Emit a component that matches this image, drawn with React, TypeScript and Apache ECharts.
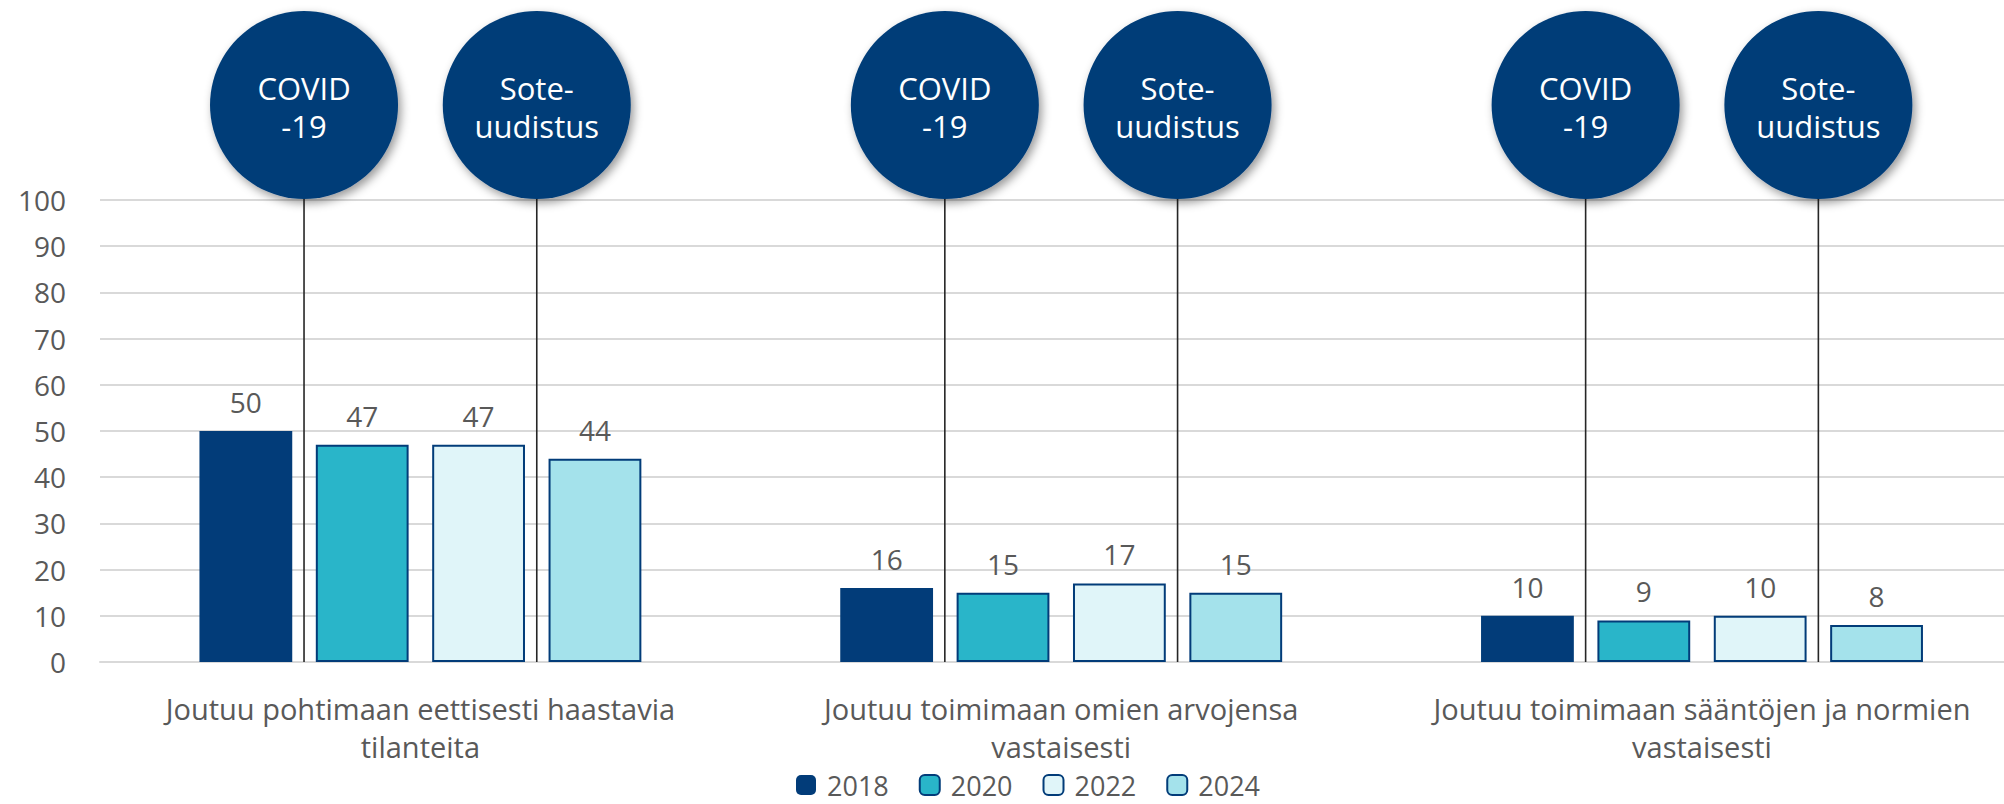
import React, { useEffect, useRef } from "react";
import * as echarts from "echarts";

const categories = [
  "Joutuu pohtimaan eettisesti haastavia\ntilanteita",
  "Joutuu toimimaan omien arvojensa\nvastaisesti",
  "Joutuu toimimaan sääntöjen ja normien\nvastaisesti",
];
const years = ["2018", "2020", "2022", "2024"];
const values2018 = [50, 16, 10];
const values2020 = [47, 15, 9];
const values2022 = [47, 17, 10];
const values2024 = [44, 15, 8];
const seriesValues = [values2018, values2020, values2022, values2024];
const yMin = 0;
const yMax = 100;
const yInterval = 10;
// events drawn between bars: after year index
const eventLabels = ["COVID\n-19", "Sote-\nuudistus"];
const eventAfterYearIndex = [0, 2];

const COLORS = ["#023C79", "#29B5C9", "#E0F5F9", "#A4E2EB"];
const BORDER = "#023C79";
const TEXT = "#595959";
const FONT = "'Open Sans', 'Noto Sans', sans-serif";
const BAR_WIDTH = 92.8;
const BAR_GAP = 0.254;

export default function App() {
  const ref = useRef<HTMLDivElement>(null);
  useEffect(() => {
    if (!ref.current) return;
    const chart = echarts.init(ref.current, null, { renderer: "svg" });
    const step = BAR_WIDTH * (1 + BAR_GAP);
    const option: any = {
      animation: false,
      backgroundColor: "#ffffff",
      grid: { left: 100, top: 200, width: 1922.4, bottom: 142, containLabel: false },
      legend: {
        data: years,
        left: 796,
        top: 770,
        padding: 0,
        itemWidth: 20,
        itemHeight: 20,
        itemGap: 30,
        textStyle: { color: TEXT, fontSize: 27, fontFamily: FONT, padding: [0, 0, 0, 6], lineHeight: 30 },
      },
      xAxis: {
        type: "category",
        data: categories,
        axisTick: { show: false },
        axisLine: { show: true, lineStyle: { color: "#D9D9D9", width: 2 } },
        axisLabel: {
          color: TEXT,
          fontSize: 29,
          fontFamily: FONT,
          lineHeight: 38,
          margin: 27,
          interval: 0,
        },
      },
      yAxis: {
        type: "value",
        min: yMin,
        max: yMax,
        interval: yInterval,
        axisLine: { show: false },
        axisTick: { show: false },
        splitLine: { lineStyle: { color: "#D9D9D9", width: 2 } },
        axisLabel: { color: TEXT, fontSize: 28, fontFamily: FONT, margin: 34 },
      },
      series: [
        ...years.map((y, i) => ({
          name: y,
          type: "bar",
          data: seriesValues[i],
          barWidth: BAR_WIDTH,
          barGap: BAR_GAP * 100 + "%",
          itemStyle: { color: COLORS[i], borderColor: BORDER, borderWidth: i === 0 ? 0 : 2 },
          label: {
            show: true,
            position: "top",
            distance: 14,
            color: TEXT,
            fontSize: 28,
            fontFamily: FONT,
            lineHeight: 30,
          },
        })),
        {
          type: "custom",
          name: "events",
          data: categories.map((_, i) => [i]),
          encode: { x: 0 },
          clip: false,
          z: 5,
          silent: true,
          renderItem: (params: any, api: any) => {
            const idx = api.value(0);
            const base = api.coord([idx, yMin]);
            const top = api.coord([idx, yMax]);
            const n = years.length;
            const children: any[] = [];
            eventAfterYearIndex.forEach((k, j) => {
              const x = base[0] + (k + 1 - n / 2) * step;
              const r = 94;
              const cy = top[1] - 95;
              children.push({
                type: "line",
                shape: { x1: x, y1: cy + r, x2: x, y2: base[1] },
                style: { stroke: "#262626", lineWidth: 1.6 },
              });
              children.push({
                type: "circle",
                shape: { cx: x, cy, r },
                style: {
                  fill: "#033D78",
                  shadowBlur: 10,
                  shadowOffsetX: 3,
                  shadowOffsetY: 4,
                  shadowColor: "rgba(0,0,0,0.4)",
                },
              });
              children.push({
                type: "text",
                style: {
                  text: eventLabels[j],
                  x,
                  y: cy + 2,
                  align: "center",
                  verticalAlign: "middle",
                  fill: "#ffffff",
                  fontSize: 31,
                  fontFamily: FONT,
                  lineHeight: 38,
                },
              });
            });
            return { type: "group", children };
          },
        },
      ],
    };
    chart.setOption(option);
    return () => chart.dispose();
  }, []);
  return (
    <div style={{ position: "absolute", left: 0, top: 0, width: 2004, height: 804, overflow: "hidden", background: "#fff" }}>
      <div ref={ref} style={{ width: 2040, height: 804 }} />
    </div>
  );
}
